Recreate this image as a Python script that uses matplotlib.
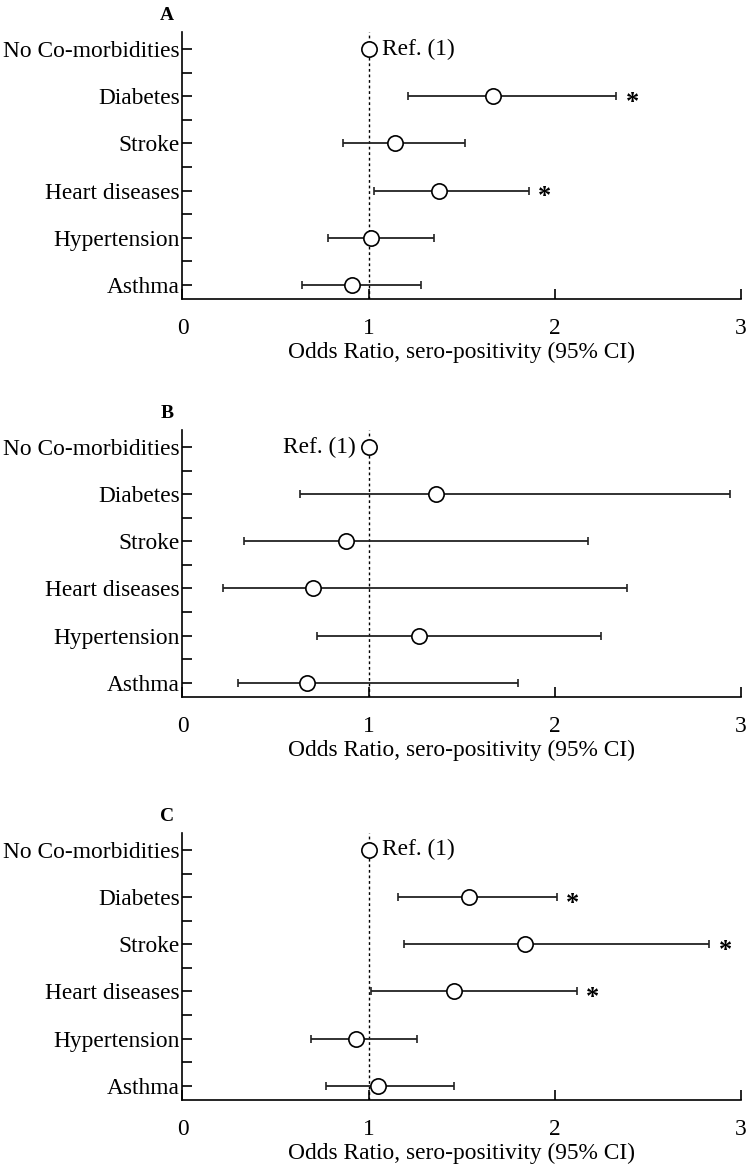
import numpy as np
from matplotlib import pyplot as plt

plt.rcParams['font.family'] = ['Liberation Serif', 'DejaVu Serif']

categories = ["No Co-morbidities", "Diabetes", "Stroke", "Heart diseases",
              "Hypertension", "Asthma"]
xlabel = "Odds Ratio, sero-positivity (95% CI)"

# panel A
or_a = [1.0, 1.67, 1.14, 1.38, 1.01, 0.91]
lo_a = [1.0, 1.21, 0.86, 1.03, 0.78, 0.64]
hi_a = [1.0, 2.33, 1.52, 1.86, 1.35, 1.28]
sig_a = [False, True, False, True, False, False]

# panel B
or_b = [1.0, 1.36, 0.88, 0.70, 1.27, 0.67]
lo_b = [1.0, 0.63, 0.33, 0.22, 0.72, 0.30]
hi_b = [1.0, 2.94, 2.18, 2.39, 2.25, 1.80]
sig_b = [False, False, False, False, False, False]

# panel C
or_c = [1.0, 1.54, 1.84, 1.46, 0.93, 1.05]
lo_c = [1.0, 1.16, 1.19, 1.01, 0.69, 0.77]
hi_c = [1.0, 2.01, 2.83, 2.12, 1.26, 1.46]
sig_c = [False, True, True, True, False, False]

panels = [("A", or_a, lo_a, hi_a, sig_a, "right"),
          ("B", or_b, lo_b, hi_b, sig_b, "left"),
          ("C", or_c, lo_c, hi_c, sig_c, "right")]

FS = 16.8
fig = plt.figure(figsize=(7.5, 11.64), dpi=100)
bottoms = [0.7431, 0.4012, 0.055]
left, width, height = 0.2433, 0.7447, 0.2294

for (letter, ors, los, his, sig, ref_side), bot in zip(panels, bottoms):
    ax = fig.add_axes([left, bot, width, height])
    y = np.arange(len(categories))
    ors = np.array(ors)
    los = np.array(los)
    his = np.array(his)

    ax.axvline(1.0, color="black", lw=1.0, ls=(0, (2.0, 2.0)), zorder=1)

    # reference row (no CI)
    ax.plot(ors[0], y[0], "o", ms=11, mfc="white", mec="black", mew=1.2, zorder=3)
    if ref_side == "right":
        ax.text(ors[0] + 0.07, y[0], "Ref. (1)", fontsize=FS, va="center", ha="left")
    else:
        ax.text(ors[0] - 0.07, y[0], "Ref. (1)", fontsize=FS, va="center", ha="right")

    ax.errorbar(ors[1:], y[1:], xerr=[ors[1:] - los[1:], his[1:] - ors[1:]],
                fmt="o", ms=11, mfc="white", mec="black", mew=1.2,
                ecolor="#222222", elinewidth=1.3, capsize=3, capthick=1.3, zorder=2)

    # significance stars
    for yi, h, s in zip(y, his, sig):
        if s:
            ax.text(h + 0.085, yi + 0.13, "*", fontsize=19, fontweight="bold",
                    ha="center", va="center")

    ax.set_xlim(0, 3)
    ax.set_ylim(5.3, -0.36)
    ax.set_xticks([0, 1, 2, 3])
    ax.set_yticks(y)
    ax.set_yticklabels(categories)
    ax.set_yticks(y[:-1] + 0.5, minor=True)
    ax.tick_params(axis="y", which="both", direction="in", length=7.5, width=1.2,
                   labelsize=FS, pad=2)
    ax.tick_params(axis="x", direction="in", length=7.5, width=1.2,
                   labelsize=FS, pad=14)
    ax.set_xlabel(xlabel, fontsize=FS, labelpad=2)

    for side in ["top", "right"]:
        ax.spines[side].set_visible(False)
    for side in ["left", "bottom"]:
        ax.spines[side].set_linewidth(1.2)

    ax.annotate(letter, xy=(-0.085, -0.36), xycoords="data",
                xytext=(0, 6), textcoords="offset points",
                fontsize=14, fontweight="bold", ha="center", va="bottom",
                annotation_clip=False)

fig.savefig("out.png", dpi=100)
